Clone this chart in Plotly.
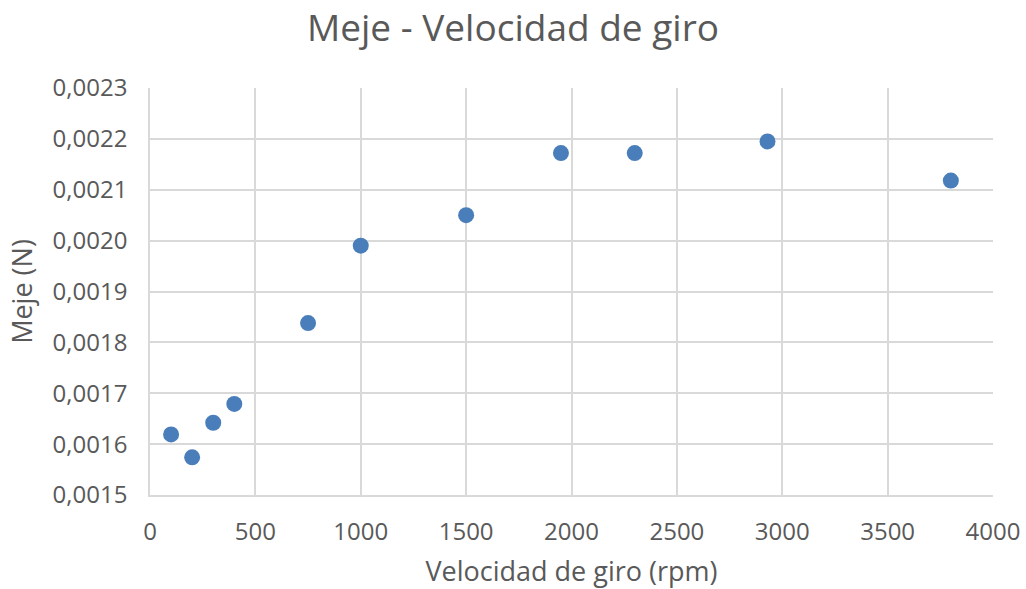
import plotly.graph_objects as go

velocidad = [100, 200, 300, 400, 750, 1000, 1500, 1950, 2300, 2930, 3800]
meje = [0.001619, 0.001574, 0.001642, 0.001679, 0.001838, 0.001990, 0.002050,
        0.002172, 0.002172, 0.002195, 0.002118]

x_ticks = [0, 500, 1000, 1500, 2000, 2500, 3000, 3500, 4000]
y_ticks = [0.0015, 0.0016, 0.0017, 0.0018, 0.0019, 0.0020, 0.0021, 0.0022, 0.0023]

FONT = "Open Sans"
GRAY = "#595959"
GRID = "#d9d9d9"

fig = go.Figure()
fig.add_trace(go.Scatter(
    x=velocidad, y=meje, mode="markers",
    marker=dict(size=16, color="#4a7ebb", line=dict(width=0)),
    showlegend=False,
))

fig.update_layout(
    width=1026, height=589,
    paper_bgcolor="white", plot_bgcolor="white",
    separators=",.",
    margin=dict(l=150, r=33, t=88, b=94),
    title=dict(text="Meje - Velocidad de giro", x=0.5, xanchor="center",
               y=0.953, yanchor="middle",
               font=dict(family=FONT, size=37, color=GRAY)),
    xaxis=dict(
        range=[0, 4000], tickvals=x_ticks, ticktext=[str(v) for v in x_ticks],
        showgrid=True, gridcolor=GRID, gridwidth=1.5, automargin=False,
        zeroline=False, showline=True, linecolor=GRID, linewidth=1.5,
        ticks="", ticklabelstandoff=14,
        tickfont=dict(family=FONT, size=24, color=GRAY),
        title=dict(text="Velocidad de giro (rpm)", standoff=29,
                   font=dict(family=FONT, size=27, color=GRAY)),
    ),
    yaxis=dict(
        range=[0.0015, 0.0023], tickvals=y_ticks, tickformat=".4f",
        showgrid=True, gridcolor=GRID, gridwidth=1.5, automargin=False,
        zeroline=False, showline=True, linecolor=GRID, linewidth=1.5,
        ticks="", ticklabelstandoff=16,
        tickfont=dict(family=FONT, size=24, color=GRAY),
        title=dict(text="Meje (N)", standoff=12,
                   font=dict(family=FONT, size=27, color=GRAY)),
    ),
)

fig.write_html("out.html", config={"displayModeBar": False},
               post_script="document.body.style.margin='0';document.body.style.overflow='hidden';")
